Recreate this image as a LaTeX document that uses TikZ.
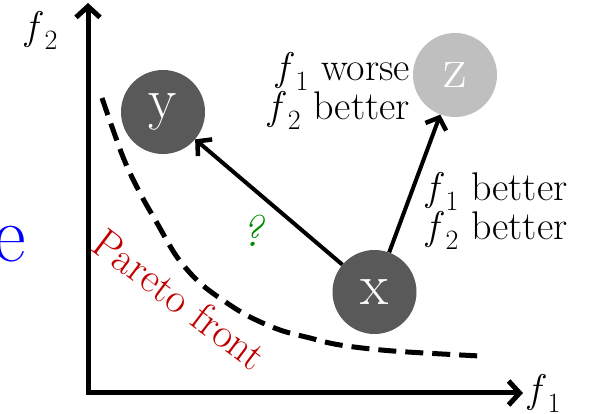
\documentclass[tikz,border=0pt]{standalone}
\usetikzlibrary{arrows.meta}
\definecolor{dkgray}{RGB}{89,89,89}
\definecolor{ltgray}{RGB}{191,191,191}
\definecolor{pred}{RGB}{192,0,0}
\definecolor{qgreen}{RGB}{0,140,0}
\newcommand\fsub[1]{\textit{f}\kern0.04em\textsubscript{#1}}
\begin{document}
\begin{tikzpicture}[x=1pt,y=-1pt,
  pt/.style={circle, minimum size=84pt, inner sep=0pt, text=white, font=\fontsize{58}{60}\selectfont},
  lbl/.style={font=\fontsize{40}{39}\selectfont, inner sep=0pt},
  axis/.style={line width=5pt, line join=miter},
  move/.style={line width=4pt, -{Straight Barb[length=10pt,width=22pt,line width=4.5pt]}},
  front/.style={line width=5pt, dash pattern=on 18pt off 9pt}]
\useasboundingbox (0,0) rectangle (598,414);
% axes
\coordinate (o) at (88,393);
\coordinate (ytop) at (88,3);
\coordinate (xend) at (523,393);
\draw[axis, {Straight Barb[length=11pt,width=24pt,line width=5pt]}-{Straight Barb[length=11pt,width=24pt,line width=5pt]}] (ytop) -- (o) -- (xend);
\node[lbl, anchor=base west] (f2) at (25,40) {\fsub{2}};
\node[lbl, anchor=base west] (f1) at (528,403) {\fsub{1}};
% pareto front
\draw[front] plot[smooth, tension=0.55] coordinates {(102,98) (123,157) (140,193) (157,223) (177,257) (200,283) (227,303) (250,317) (280,330) (310,338) (340,345) (393,351) (480,356)};
\node[lbl, rotate=-37, text=pred, font=\fontsize{42}{44}\selectfont] (pf) at (180,299) {Pareto front};
% points
\node[pt, fill=dkgray] (y) at (163,112) {y};
\node[pt, fill=ltgray] (z) at (455,75) {z};
\node[pt, fill=dkgray] (x) at (374.5,292) {x};
\draw[move] (x) -- (y);
\draw[move] (x) -- (z);
\node[lbl, align=right, anchor=base east] (zl) at (410,120) {\fsub{1} worse\\\fsub{2} better};
\node[lbl, align=left, anchor=base west] (xl) at (426,240) {\fsub{1} better\\\fsub{2} better};
\node[text=qgreen, font=\fontsize{44}{44}\selectfont\itshape, inner sep=0pt] (q) at (252,231) {?};
\node[text=blue, font=\fontsize{80}{80}\selectfont, inner sep=0pt, anchor=base east] (e) at (26,262) {e};
\end{tikzpicture}
\end{document}
